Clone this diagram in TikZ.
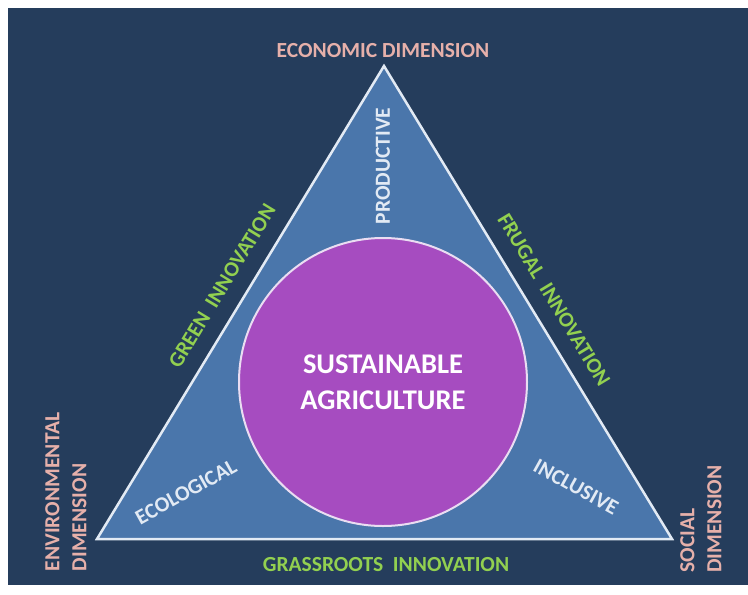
\documentclass[tikz,border=0pt]{standalone}
\usepackage{fontspec}
\setmainfont{Carlito}
\usepackage{tikz}

\definecolor{navy}{RGB}{37,61,92}
\definecolor{steel}{RGB}{74,118,171}
\definecolor{orchid}{RGB}{166,76,192}
\definecolor{salmon}{RGB}{230,176,170}
\definecolor{leaf}{RGB}{146,208,80}
\definecolor{pale}{RGB}{226,234,244}

\begin{document}
\begin{tikzpicture}[x=1pt,y=-1pt,
    dimlabel/.style={text=salmon, font=\fontsize{21.5}{27}\selectfont\bfseries, align=left, inner sep=0pt},
    innolabel/.style={text=leaf, font=\fontsize{21.5}{24}\selectfont\bfseries, inner sep=0pt},
    sidelabel/.style={text=pale, font=\fontsize{21.5}{24}\selectfont\bfseries, inner sep=0pt}]
	  % Page and background
	  \useasboundingbox (0,0) rectangle (748,595);
	  \fill[white] (0,0) rectangle (748,595);
	  \fill[navy] (8,8) rectangle (748,585);

	  % Corners of the triangle
	  \coordinate (apex) at (384,66);
	  \coordinate (envcorner) at (97,539);
	  \coordinate (soccorner) at (672,539);

	  % Triangle
	  \draw[pale, line width=2.5pt, fill=steel, line join=miter] (apex) -- (envcorner) -- (soccorner) -- cycle;

	  % Central circle
	  \node[circle, draw=pale!60!orchid!40!white, line width=2pt, fill=orchid, minimum size=288pt,
	    text=white, align=center, font=\fontsize{28.5}{36}\selectfont\bfseries] (core) at (383,382)
	    {SUSTAINABLE\\AGRICULTURE};

	  % Corner labels inside the triangle
	  \node[sidelabel, rotate=90] (productive) at (383,166) {PRODUCTIVE};
	  \node[sidelabel, rotate=29] (ecological) at (186,492) {ECOLOGICAL};
	  \node[sidelabel, rotate=-29] (inclusive) at (576,487) {INCLUSIVE};

	  % Innovation labels along the sides
	  \node[innolabel, rotate=58.8] (green) at (222,286) {GREEN~~INNOVATION};
	  \node[innolabel, rotate=-58.8] (frugal) at (554,300) {FRUGAL~~INNOVATION};
	  \node[innolabel] (grassroots) at (386,565) {GRASSROOTS~~INNOVATION};

	  % Dimension labels at the corners
	  \node[dimlabel] (economic) at (383,51) {ECONOMIC DIMENSION};
	  \node[dimlabel, rotate=90] (environmental) at (66,492) {ENVIRONMENTAL\\DIMENSION};
	  \node[dimlabel, rotate=90] (social) at (701,519) {SOCIAL\\DIMENSION};
	\end{tikzpicture}
\end{document}
